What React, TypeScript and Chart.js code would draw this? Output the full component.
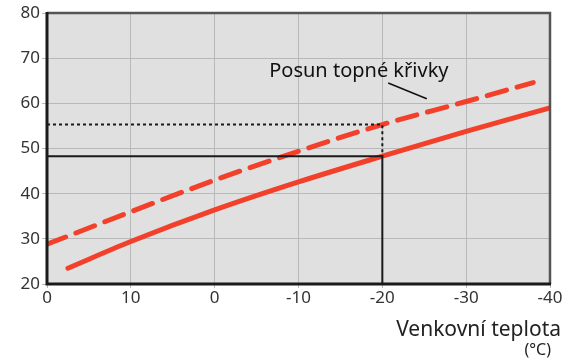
import React, { useEffect, useRef } from "react";
import { Chart, registerables } from "chart.js";

Chart.register(...registerables);

const xTickLabels = ["0", "10", "0", "-10", "-20", "-30", "-40"];
const yTicks = [20, 30, 40, 50, 60, 70, 80];

const solidX = [0.25, 1, 2, 3, 4, 5, 6];
const solidY = [23.5, 29.4, 36.4, 42.6, 48.3, 53.8, 59.0];

const dashedX = [0, 1, 2, 3, 4, 5, 5.8];
const dashedY = [28.8, 36.0, 43.0, 49.4, 55.3, 60.4, 64.6];

const refX = [0, 4, 4];
const refSolidY = [48.3, 48.3, 20];
const refDottedY = [55.3, 55.3, 48.3];

const annotationText = "Posun topné křivky";
const axisTitle = "Venkovní teplota";
const axisUnit = "(°C)";

const FONT = "'Noto Sans', 'Open Sans', sans-serif";
const RED = "#f2402a";

const pts = (xs: number[], ys: number[]) => xs.map((x, i) => ({ x, y: ys[i] }));

const decorPlugin = {
  id: "decor",
  afterDatasetsDraw(chart: any) {
    const { ctx, chartArea: a, scales } = chart;
    const xs = scales.x;
    const ys = scales.y;
    ctx.save();
    ctx.lineCap = "butt";
    ctx.strokeStyle = "#555";
    ctx.lineWidth = 2.5;
    ctx.beginPath();
    ctx.moveTo(a.left, a.top);
    ctx.lineTo(a.right, a.top);
    ctx.lineTo(a.right, a.bottom);
    ctx.stroke();
    ctx.strokeStyle = "#1a1a1a";
    ctx.lineWidth = 3;
    ctx.beginPath();
    ctx.moveTo(a.left, a.top - 1);
    ctx.lineTo(a.left, a.bottom);
    ctx.lineTo(a.right + 1, a.bottom);
    ctx.stroke();
    // annotation
    ctx.fillStyle = "#111";
    ctx.font = `20px ${FONT}`;
    ctx.textAlign = "center";
    ctx.textBaseline = "alphabetic";
    ctx.fillText(annotationText, xs.getPixelForValue(3.72), 77);
    ctx.strokeStyle = "#111";
    ctx.lineWidth = 1.5;
    ctx.beginPath();
    ctx.moveTo(xs.getPixelForValue(4.07), ys.getPixelForValue(64.5));
    ctx.lineTo(xs.getPixelForValue(4.53), ys.getPixelForValue(61));
    ctx.stroke();
    // axis title
    ctx.fillStyle = "#222";
    ctx.textAlign = "right";
    ctx.font = `21px ${FONT}`;
    ctx.fillText(axisTitle, 561, 336);
    ctx.font = `16px ${FONT}`;
    ctx.fillText(axisUnit, 551, 355);
    ctx.restore();
  },
};

const bgPlugin = {
  id: "bg",
  beforeDraw(chart: any) {
    const { ctx, chartArea: a } = chart;
    ctx.save();
    ctx.fillStyle = "#e0e0e0";
    ctx.fillRect(a.left, a.top, a.right - a.left, a.bottom - a.top);
    ctx.restore();
  },
};

export default function App() {
  const ref = useRef<HTMLCanvasElement>(null);
  useEffect(() => {
    document.body.style.margin = "0";
    const chart = new Chart(ref.current!, {
      type: "line",
      data: {
        datasets: [
          {
            data: pts(refX, refSolidY),
            borderColor: "#1a1a1a",
            borderWidth: 2,
            pointRadius: 0,
            tension: 0,
          },
          {
            data: pts(refX, refDottedY),
            borderColor: "#1a1a1a",
            borderWidth: 2,
            borderDash: [3, 3],
            pointRadius: 0,
            tension: 0,
          },
          {
            data: pts(dashedX, dashedY),
            borderColor: RED,
            borderWidth: 5,
            borderDash: [20, 11],
            borderCapStyle: "round",
            pointRadius: 0,
            cubicInterpolationMode: "monotone",
          },
          {
            data: pts(solidX, solidY),
            borderColor: RED,
            borderWidth: 5,
            borderCapStyle: "round",
            pointRadius: 0,
            cubicInterpolationMode: "monotone",
          },
        ] as any,
      },
      options: {
        animation: false,
        responsive: false,
        maintainAspectRatio: false,
        layout: { padding: { top: 13, right: 13, left: 0, bottom: 0 } },
        plugins: { legend: { display: false }, tooltip: { enabled: false } },
        scales: {
          x: {
            type: "linear",
            min: 0,
            max: 6,
            afterFit: (s: any) => {
              s.height = 76;
            },
            afterBuildTicks: (s: any) => {
              s.ticks = xTickLabels.map((_, i) => ({ value: i }));
            },
            ticks: {
              callback: (v: any) => xTickLabels[Math.round(Number(v))],
              color: "#333",
              font: { size: 17, family: FONT },
              padding: 0,
              maxRotation: 0,
              autoSkip: false,
            },
            grid: { color: "#b8b8b8", lineWidth: 1, tickLength: 4, drawTicks: true },
            border: { display: false },
          },
          y: {
            type: "linear",
            min: 20,
            max: 80,
            afterFit: (s: any) => {
              s.width = 47;
            },
            afterBuildTicks: (s: any) => {
              s.ticks = yTicks.map((v) => ({ value: v }));
            },
            ticks: {
              color: "#333",
              font: { size: 17, family: FONT },
              padding: 2,
            },
            grid: { color: "#b8b8b8", lineWidth: 1, tickLength: 5, drawTicks: true },
            border: { display: false },
          },
        },
      },
      plugins: [bgPlugin, decorPlugin],
    });
    return () => chart.destroy();
  }, []);
  return (
    <div style={{ width: 563, height: 360 }}>
      <canvas ref={ref} width={563} height={360} style={{ display: "block" }} />
    </div>
  );
}
